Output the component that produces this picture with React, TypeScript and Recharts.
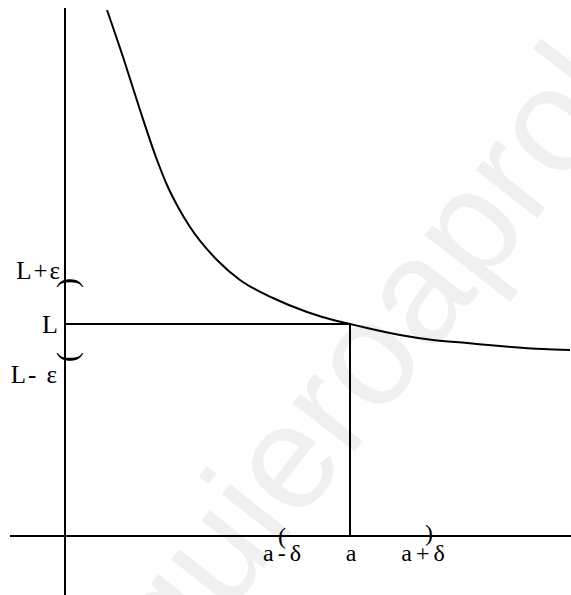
import React from 'react';
import { LineChart, Line, XAxis, YAxis, ReferenceLine, ReferenceDot } from 'recharts';

// curve (units = px from the axis origin)
const curveX = [42, 59, 75, 92, 102, 113, 125, 152, 175, 208, 242, 272, 285, 302, 335, 368, 402, 435, 478, 505];
const curveY = [526, 476, 426, 376, 351, 329, 309, 276, 256, 238, 224, 215, 212, 208, 201, 196, 193, 190, 187, 186];

const L = 212;
const EPS = 37;
const A = 285;
const DELTA = 74;

const X_DOMAIN = [-65, 506];
const Y_DOMAIN = [-59, 536];
const Y_AXIS_TOP = 528;
const X_AXIS_LEFT = -55;

const data = curveX.map((x, i) => ({ x, y: curveY[i] }));

const FONT = '"Liberation Serif", "Times New Roman", serif';

type Pt = { cx?: number; cy?: number };

function textShape(text: string, dx: number, dy: number, anchor: 'start' | 'middle' | 'end', size = 24, spacing = 2) {
  return ({ cx = 0, cy = 0 }: Pt) => (
    <text
      x={cx + dx}
      y={cy + dy}
      textAnchor={anchor}
      fontFamily={FONT}
      fontSize={size}
      letterSpacing={spacing}
      fill="#000"
    >
      {text}
    </text>
  );
}

function parenShape(ch: string, rot: number, dx = 0, dy = 0, size = 24) {
  return ({ cx = 0, cy = 0 }: Pt) => {
    const x = cx + dx;
    const y = cy + dy;
    return (
      <text
        x={x}
        y={y}
        textAnchor="middle"
        dominantBaseline="central"
        fontFamily={FONT}
        fontSize={size}
        fill="#000"
        transform={rot ? `rotate(${rot}, ${x}, ${y})` : undefined}
      >
        {ch}
      </text>
    );
  };
}

export default function App() {
  return (
    <div style={{ position: 'absolute', left: 0, top: 0, width: 571, height: 595, background: '#fff', overflow: 'hidden' }}>
      {/* faint watermark */}
      <svg width={571} height={595} style={{ position: 'absolute', left: 0, top: 0 }}>
        <text
          x={176}
          y={680}
          transform="rotate(-52, 176, 680)"
          fontFamily='"Liberation Sans", Arial, sans-serif'
          fontSize={148}
          fill="#f0f0f0"
        >
          quieroaprobar
        </text>
      </svg>
      <LineChart width={571} height={595} data={data} margin={{ top: 0, right: 0, bottom: 0, left: 0 }}>
        <XAxis type="number" dataKey="x" domain={X_DOMAIN} hide allowDataOverflow />
        <YAxis type="number" domain={Y_DOMAIN} hide allowDataOverflow />

        {/* axes */}
        <ReferenceLine segment={[{ x: 0, y: Y_DOMAIN[0] }, { x: 0, y: Y_AXIS_TOP }]} stroke="#000" strokeWidth={2} />
        <ReferenceLine segment={[{ x: X_AXIS_LEFT, y: 0 }, { x: X_DOMAIN[1], y: 0 }]} stroke="#000" strokeWidth={2} />

        {/* L and a guides */}
        <ReferenceLine segment={[{ x: 0, y: L }, { x: A, y: L }]} stroke="#000" strokeWidth={2} />
        <ReferenceLine segment={[{ x: A, y: 0 }, { x: A, y: L }]} stroke="#000" strokeWidth={2} />

        <Line
          type="monotone"
          dataKey="y"
          stroke="#000"
          strokeWidth={2}
          dot={false}
          activeDot={false}
          isAnimationActive={false}
        />

        {/* y labels */}
        <ReferenceDot x={0} y={L + EPS} r={0} shape={textShape('L+ε', -3, -8, 'end', 25)} />
        <ReferenceDot x={0} y={L} r={0} shape={textShape('L', -5, 9, 'end', 26)} />
        <ReferenceDot x={0} y={L - EPS} r={0} shape={textShape('L- ε', -6, 22, 'end', 25)} />
        <ReferenceDot x={0} y={L + EPS} r={0} shape={parenShape(')', -90, 1, -4, 30)} />
        <ReferenceDot x={0} y={L - EPS} r={0} shape={parenShape('(', -90, 1, -4, 30)} />

        {/* x labels */}
        <ReferenceDot x={A - DELTA} y={0} r={0} shape={textShape('a-δ', 8, 25, 'middle', 24, 4)} />
        <ReferenceDot x={A} y={0} r={0} shape={textShape('a', 1, 25, 'middle', 24, 0)} />
        <ReferenceDot x={A + DELTA} y={0} r={0} shape={textShape('a+δ', 1, 25, 'middle', 24, 4)} />
        <ReferenceDot x={A - DELTA} y={0} r={0} shape={parenShape('(', 0, 6, 0)} />
        <ReferenceDot x={A + DELTA} y={0} r={0} shape={parenShape(')', 0, 5, -3)} />
      </LineChart>
    </div>
  );
}
